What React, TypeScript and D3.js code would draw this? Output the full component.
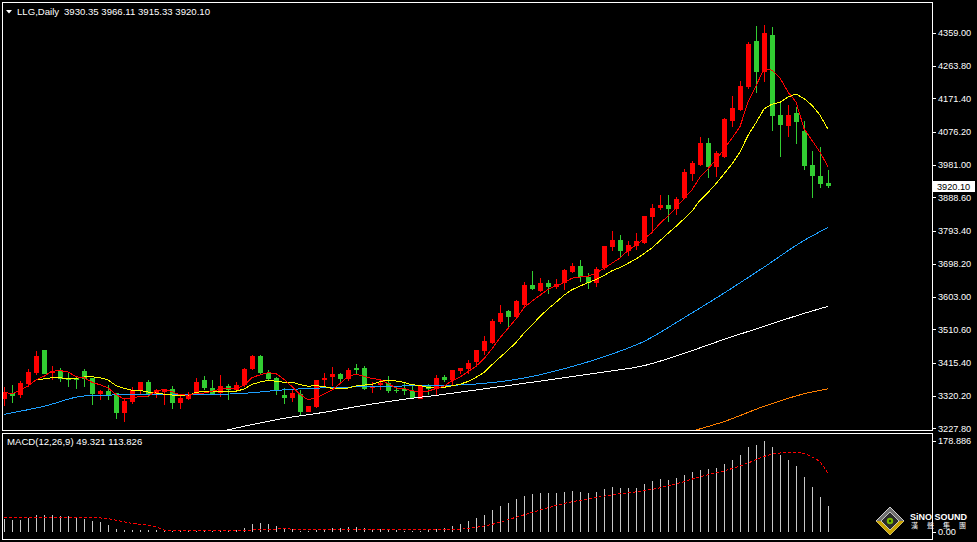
// App.tsx
import React, { useEffect } from 'react';
import * as d3 from 'd3';

// LLG daily candles (oldest -> newest)
const opens = [
  3310.7, 3328.8, 3322.1, 3353.5, 3385.9, 3450.6, 3385.9, 3391.6, 3369.7, 3371.6,
  3390.7, 3371.6, 3325.0, 3333.5, 3328.8, 3271.7, 3303.1, 3336.4, 3359.2, 3325.0,
  3331.6, 3339.3, 3300.2, 3312.6, 3326.9, 3364.9, 3343.1, 3328.8, 3347.8, 3338.3,
  3350.7, 3396.4, 3433.5, 3386.9, 3371.6, 3322.1, 3314.5, 3326.9, 3274.5, 3288.8,
  3364.9, 3374.5, 3382.1, 3367.8, 3401.1, 3399.2, 3343.1, 3352.6, 3357.3, 3336.4,
  3341.2, 3334.5, 3312.7, 3350.8, 3341.2, 3374.6, 3366.9, 3391.7, 3396.5, 3417.4,
  3447.9, 3472.6, 3531.6, 3562.1, 3545.9, 3579.2, 3636.4, 3620.2, 3643.0, 3631.6,
  3643.0, 3674.4, 3690.6, 3660.2, 3643.0, 3685.9, 3745.9, 3764.9, 3733.5, 3747.8,
  3757.3, 3831.6, 3857.3, 3864.9, 3853.5, 3886.8, 3955.3, 3982.0, 4042.9, 3974.4,
  4002.9, 4107.6, 4139.1, 4204.7, 4334.2, 4245.7, 4353.3, 4124.8, 4093.4, 4128.6,
  4079.1, 3982.0, 3950.6, 3930.35,
];
const highs = [
  3345.9, 3350.7, 3363.1, 3398.3, 3447.8, 3451.5, 3405.0, 3401.1, 3388.8, 3376.4,
  3396.4, 3372.5, 3336.4, 3350.7, 3329.5, 3312.6, 3345.9, 3361.0, 3366.9, 3341.2,
  3341.2, 3347.8, 3319.3, 3331.6, 3371.6, 3376.4, 3366.9, 3379.2, 3353.5, 3360.2,
  3401.1, 3436.4, 3436.4, 3393.5, 3374.5, 3343.1, 3336.4, 3336.4, 3291.0, 3366.9,
  3385.9, 3403.0, 3386.9, 3401.1, 3410.7, 3405.0, 3360.2, 3366.9, 3376.4, 3345.9,
  3357.3, 3347.8, 3350.8, 3355.5, 3379.3, 3379.3, 3394.5, 3400.0, 3424.1, 3452.6,
  3490.7, 3539.3, 3579.2, 3565.0, 3595.4, 3645.9, 3676.3, 3658.3, 3650.6, 3655.4,
  3684.0, 3701.1, 3707.8, 3672.5, 3688.7, 3748.5, 3791.6, 3779.2, 3762.1, 3785.9,
  3834.5, 3869.6, 3896.3, 3896.3, 3890.6, 3969.6, 3993.4, 4060.0, 4057.2, 4021.9,
  4115.3, 4179.0, 4220.0, 4331.4, 4379.0, 4381.8, 4376.1, 4160.0, 4152.4, 4145.7,
  4107.6, 4020.1, 4031.5, 3966.11,
];
const lows = [
  3291.7, 3300.2, 3315.5, 3345.9, 3381.1, 3382.0, 3364.9, 3360.2, 3345.9, 3340.2,
  3345.9, 3293.6, 3309.7, 3307.8, 3253.6, 3246.0, 3298.3, 3325.0, 3317.4, 3315.5,
  3293.6, 3284.0, 3282.1, 3309.7, 3322.1, 3338.3, 3322.1, 3317.4, 3307.8, 3331.6,
  3345.9, 3393.5, 3384.0, 3364.9, 3322.1, 3298.3, 3303.1, 3265.0, 3274.0, 3286.9,
  3345.9, 3347.8, 3355.4, 3363.1, 3379.2, 3338.3, 3328.8, 3336.4, 3328.8, 3328.8,
  3324.0, 3312.6, 3310.8, 3322.2, 3320.3, 3360.3, 3350.8, 3384.1, 3382.2, 3403.1,
  3436.4, 3467.9, 3525.0, 3512.6, 3541.2, 3572.6, 3622.1, 3617.3, 3610.7, 3626.8,
  3624.0, 3671.6, 3645.9, 3624.9, 3631.6, 3681.1, 3734.5, 3717.3, 3720.2, 3736.4,
  3755.4, 3791.6, 3850.6, 3817.3, 3836.3, 3883.9, 3934.4, 3979.1, 3943.0, 3945.8,
  4001.0, 4088.6, 4136.2, 4198.1, 4185.7, 4217.1, 4079.1, 4002.9, 4061.9, 4041.0,
  3966.7, 3885.8, 3914.4, 3915.33,
];
const closes = [
  3331.6, 3320.2, 3357.3, 3387.8, 3434.5, 3383.0, 3391.6, 3367.8, 3366.9, 3366.9,
  3369.7, 3325.0, 3333.5, 3322.1, 3271.7, 3305.0, 3336.4, 3360.2, 3326.9, 3336.4,
  3338.3, 3300.2, 3314.5, 3325.0, 3360.2, 3343.1, 3324.0, 3347.8, 3336.4, 3350.7,
  3396.4, 3433.5, 3385.9, 3367.8, 3338.3, 3314.5, 3328.8, 3274.5, 3290.7, 3364.9,
  3372.6, 3382.1, 3367.8, 3395.4, 3395.4, 3341.2, 3348.8, 3357.3, 3334.5, 3334.5,
  3333.5, 3314.5, 3347.9, 3339.3, 3372.7, 3366.9, 3393.6, 3399.3, 3415.5, 3450.7,
  3476.4, 3533.5, 3558.3, 3545.9, 3590.7, 3636.4, 3624.9, 3643.0, 3631.6, 3641.1,
  3679.2, 3690.6, 3660.2, 3643.0, 3683.9, 3747.8, 3764.9, 3734.5, 3750.6, 3762.1,
  3833.5, 3858.2, 3864.9, 3853.5, 3883.9, 3962.0, 3985.8, 4042.9, 3974.4, 4014.3,
  4112.4, 4142.9, 4207.6, 4326.6, 4245.7, 4357.1, 4121.9, 4096.2, 4124.8, 4104.8,
  3979.1, 3950.6, 3926.8, 3920.10,
];

const priceTicks = [4359.0, 4263.8, 4171.4, 4076.2, 3981.0, 3888.6, 3793.4, 3698.2, 3603.0, 3510.6, 3415.4, 3320.2, 3227.8];

// long moving averages at these bars
const maBars = [0, 5, 10, 15, 20, 25, 30, 35, 40, 45, 50, 55, 60, 65, 70, 75, 80, 85, 90, 95, 100, 103];
const maBlue = [3267.8, 3290.6, 3320.1, 3323.5, 3323.5, 3324.1, 3327.8, 3337.8, 3343.5, 3346.8, 3348.8, 3350.2, 3356.3, 3371.5, 3398.0, 3432.5, 3476.3, 3543.7, 3614.3, 3688.6, 3764.8, 3802.0];
const maWhite = [null, null, null, null, null, 3207.8, 3233.5, 3256.3, 3273.5, 3293.5, 3310.6, 3324.9, 3340.6, 3356.3, 3372.5, 3388.8, 3406.9, 3442.0, 3482.0, 3519.2, 3556.3, 3576.3];
const maOrange = [null, null, null, null, null, null, null, null, null, null, null, null, null, null, null, null, null, 3213.5, 3247.0, 3290.6, 3326.4, 3340.6];

const macdHist = [
  25, 23, 23, 27.5, 32.8, 32.8, 32.8, 30.8, 30, 27.5,
  25, 21, 17.7, 13, 5.3, 2, 3.3, 3.3, 3.9, 3.3,
  3.9, 0.5, 0.5, 0.5, 0.5, 0.5, 0.5, 0.5, 0.5, 3,
  7, 15, 16.4, 14, 10, 6, 4, 1, 0.5, 2,
  4, 6, 7, 8, 9, 6, 5, 4, 3, 2,
  1.5, 1, 1.5, 2, 4, 7, 11, 15, 20, 26,
  33, 42, 51, 57, 63, 70, 74, 76, 76, 76,
  78, 80, 78, 75, 77, 83, 88, 86, 85, 86,
  93, 99, 103, 102, 105, 111, 116, 120, 122.9, 125.4,
  132.7, 140.6, 150.4, 166, 170, 178.886, 166, 150.4, 140.6, 128.8,
  106.6, 87.5, 67.8, 49.321,
];
const signalBars = [0, 5, 10, 13, 15, 16, 18, 19, 20, 22, 30, 32, 35, 40, 45, 50, 55, 58, 61, 64, 67, 70, 73, 76, 79, 82, 85, 87, 90, 93, 95, 97, 99, 101, 102, 103];
const signalVals = [28, 28, 28, 25, 19, 16, 12.8, 9.4, 3, 1, 2, 4, 5, 3, 4, 3, 3, 6, 14, 28, 42, 55, 64, 72, 78, 86, 98, 107.7, 119, 134.7, 147.5, 154.3, 155.7, 146.5, 136.6, 113.826];
const macdTicks = [178.886, 0];

const W = 977;
const H = 542;
const font = '"Liberation Sans", Arial, sans-serif';

const movingAverage = (period: number) =>
  closes.map((_, i) => {
    const from = Math.max(0, i - period + 1);
    return d3.mean(closes.slice(from, i + 1)) as number;
  });

const App: React.FC = () => {
  useEffect(() => {
    document.body.style.margin = '0';
    document.body.style.background = '#000';
  }, []);

  const x = d3.scaleLinear().domain([0, 103]).range([4, 828]);
  const y = d3.scaleLinear().domain([3227.8, 4359]).range([428.3, 32.7]);
  const ym = d3.scaleLinear().domain([0, 178.886]).range([531.5, 440.5]);

  const line = d3.line<[number, number]>().x(d => x(d[0])).y(d => y(d[1]));
  const smooth = d3.line<[number, number]>().x(d => x(d[0])).y(d => y(d[1])).curve(d3.curveMonotoneX);
  const toPts = (bars: number[], vals: (number | null)[]) =>
    bars.map((b, i) => [b, vals[i]] as [number, number | null]).filter(d => d[1] !== null) as [number, number][];

  const ma5 = movingAverage(5).map((v, i) => [i, v] as [number, number]);
  const ma10 = movingAverage(10).map((v, i) => [i, v] as [number, number]);

  const signalLine = d3.line<[number, number]>().x(d => x(d[0])).y(d => ym(d[1])).curve(d3.curveMonotoneX);
  const signalPts = signalBars.map((b, i) => [b, signalVals[i]] as [number, number]);

  const last = closes[closes.length - 1];

  return (
    <svg width={W} height={H} style={{ display: 'block', background: '#000' }} fontFamily={font}>
      <defs>
        <clipPath id="mainClip">
          <rect x={3} y={3} width={929} height={427} />
        </clipPath>
        <clipPath id="macdClip">
          <rect x={3} y={434} width={929} height={105} />
        </clipPath>
      </defs>
      <rect width={W} height={H} fill="#000" />

      {/* frames */}
      <rect x={2.5} y={2.5} width={930} height={428} fill="none" stroke="#fff" />
      <rect x={2.5} y={433.5} width={930} height={106} fill="none" stroke="#fff" />

      {/* header */}
      <path d="M6,10 L12,10 L9,13.5 Z" fill="#fff" />
      <text x={17} y={15} fill="#fff" fontSize={9.6}>LLG,Daily</text>
      <text x={64} y={15} fill="#fff" fontSize={9.6}>3930.35 3966.11 3915.33 3920.10</text>

      {/* candles */}
      <g clipPath="url(#mainClip)" shapeRendering="crispEdges">
        {closes.map((c, i) => {
          const o = opens[i];
          const up = c >= o;
          const col = up ? '#ff0000' : '#32cd32';
          const cx = Math.round(x(i));
          const top = Math.round(y(Math.max(o, c)));
          const bot = Math.round(y(Math.min(o, c)));
          return (
            <g key={i}>
              <line x1={cx + 0.5} x2={cx + 0.5} y1={y(highs[i])} y2={y(lows[i])} stroke={col} />
              <rect x={cx - 2} y={top} width={5} height={Math.max(1, bot - top)} fill={col} />
            </g>
          );
        })}
      </g>

      {/* moving averages */}
      <g clipPath="url(#mainClip)" fill="none" strokeWidth={1} shapeRendering="crispEdges">
        <path d={smooth(toPts(maBars, maOrange)) ?? ''} stroke="#ff7f00" />
        <path d={smooth(toPts(maBars, maWhite)) ?? ''} stroke="#ffffff" />
        <path d={smooth(toPts(maBars, maBlue)) ?? ''} stroke="#1ea0ff" />
        <path d={line(ma10) ?? ''} stroke="#ffff00" />
        <path d={line(ma5) ?? ''} stroke="#ff0000" />
      </g>

      {/* price axis */}
      <g fill="#fff" fontSize={9.2}>
        {priceTicks.map(t => (
          <g key={t}>
            <line x1={933} x2={936} y1={Math.round(y(t)) + 0.5} y2={Math.round(y(t)) + 0.5} stroke="#fff" />
            <text x={938} y={y(t)} dy="0.36em">{t.toFixed(2)}</text>
          </g>
        ))}
        <rect x={933} y={Math.round(y(last)) - 5} width={42} height={11} fill="#fff" />
        <text x={937} y={y(last)} dy="0.36em" fill="#000">{last.toFixed(2)}</text>
      </g>

      {/* MACD panel */}
      <text x={7} y={445} fill="#fff" fontSize={9.6}>MACD(12,26,9) 49.321 113.826</text>
      <g clipPath="url(#macdClip)" shapeRendering="crispEdges">
        {macdHist.map((v, i) => {
          const cx = Math.round(x(i));
          const top = Math.round(ym(v));
          const base = Math.round(ym(0));
          return <rect key={i} x={cx} y={top} width={1} height={Math.max(0, base - top)} fill="#c8c8c8" />;
        })}
        <path d={signalLine(signalPts) ?? ''} fill="none" stroke="#ff0000" strokeDasharray="3,2" />
      </g>
      <g fill="#fff" fontSize={9.2}>
        {macdTicks.map(t => (
          <g key={t}>
            <line x1={933} x2={936} y1={Math.round(ym(t)) + 0.5} y2={Math.round(ym(t)) + 0.5} stroke="#fff" />
            <text x={938} y={ym(t)} dy="0.36em">{t === 0 ? '0.00' : t.toFixed(3)}</text>
          </g>
        ))}
      </g>

      {/* watermark logo */}
      <g>
        <path d="M890,507 L904,521 L890,535 L876,521 Z" fill="#707070" stroke="#d0d0d0" strokeWidth={1} />
        <path d="M876,521 L890,535 L904,521 L897,521 L890,528 L883,521 Z" fill="#c8a400" />
        <path d="M890,512 L899,521 L890,530 L881,521 Z" fill="#2a2a2a" stroke="#e0e0e0" strokeWidth={0.8} />
        <circle cx={890} cy={521} r={3.2} fill="#7ab800" />
        <circle cx={890} cy={521} r={1.2} fill="#204000" />
        <text x={910} y={519.5} fill="#fff" fontSize={9.5} fontWeight="bold" textLength={57} lengthAdjust="spacingAndGlyphs">SiNO SOUND</text>
        <text x={911} y={528} fill="#fff" fontSize={7} fontFamily='"Noto Sans CJK TC", sans-serif' textLength={55} lengthAdjust="spacing">漢聲集團</text>
      </g>
    </svg>
  );
};

export default App;
